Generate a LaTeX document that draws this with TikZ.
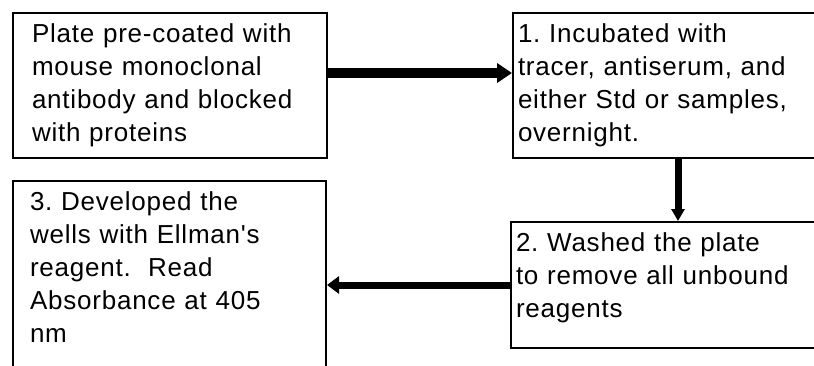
\documentclass[tikz,border=0pt]{standalone}
\usepackage{fontspec}
\usepackage{tikz}
\usetikzlibrary{arrows.meta}
\newfontfamily\stagefont{Liberation Sans}[LetterSpace=3.0]
\frenchspacing

\begin{document}
\begin{tikzpicture}[x=1pt, y=-1pt]
  \begin{scope} [
    every node/.style={font=\stagefont\fontsize{26}{33}\selectfont},
    stage/.style={draw, line width=2pt, rectangle, anchor=north west, align=left,
      inner ysep=10pt, text height=19pt, text depth=106pt},
    flow/.style={line width=7pt, -{Triangle[length=12pt, width=17pt]}}]
    \useasboundingbox (0,0) rectangle (814,365);
    \clip (0,0) rectangle (814,365);
    %% *** Boxes ***
    \node [stage, inner xsep=19pt, text width=276pt] (plate) at (12,12)
      {Plate pre-coated with\\mouse monoclonal\\antibody and blocked\\with proteins};
    \node [stage, inner xsep=5pt, text width=320pt] (incub) at (512,12)
      {1. Incubated with\\tracer, antiserum, and\\either Std or samples,\\overnight.};
    \node [stage, inner xsep=5pt, text width=320pt, text depth=87pt] (wash) at (510,221)
      {2. Washed the plate\\to remove all unbound\\reagents};
    \node [stage, inner xsep=17pt, text width=279pt, text depth=200pt] (devel) at (12,180)
      {3. Developed the\\wells with Ellman's\\reagent.\ \ Read\\Absorbance at 405\\nm};
    %% *** Arrows ***
    \draw [flow, line width=10pt, -{Triangle[length=15pt, width=19pt]}]
      ([yshift=12.5pt]plate.east) -- ([yshift=12.5pt]plate.east -| incub.west);
    \draw [flow, -{Triangle[length=12pt, width=13pt]}]
      ([xshift=166pt]incub.south west) -- ([xshift=166pt]incub.south west |- wash.north);
    \draw [flow] (wash.west) -- (wash.west -| devel.east);
  \end{scope}
\end{tikzpicture}
\end{document}
